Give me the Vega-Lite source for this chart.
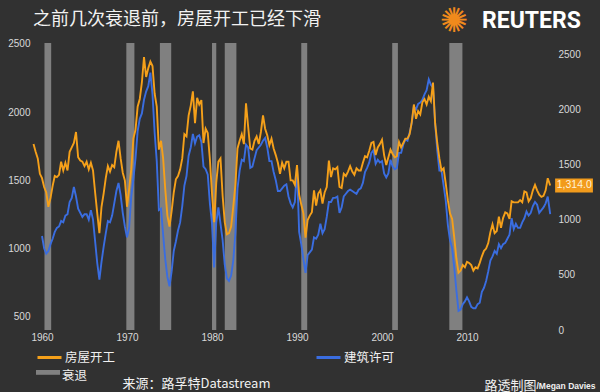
{
"$schema":"https://vega.github.io/schema/vega-lite/v6.json",
"width":519,"height":287,
"autosize":{"type":"none"},
"padding":{"left":33,"top":43,"right":48,"bottom":62},
"background":"#313131",
"config":{"view":{"stroke":null},"axis":{"grid":false,"domain":false,"ticks":false,"labelColor":"#d9d9d9","labelFont":"Liberation Sans","labelFontSize":10}},
"datasets":{
"rec":[{"a":1960.29,"b":1961.08,"k":"衰退"},{"a":1969.92,"b":1970.87,"k":"衰退"},{"a":1973.87,"b":1975.2,"k":"衰退"},{"a":1980.0,"b":1980.5,"k":"衰退"},{"a":1981.5,"b":1982.87,"k":"衰退"},{"a":1990.5,"b":1991.2,"k":"衰退"},{"a":2001.2,"b":2001.87,"k":"衰退"},{"a":2007.92,"b":2009.46,"k":"衰退"}],
"hs":[
{"t":1959,"s":1690},{"t":1959.25,"s":1620},{"t":1959.5,"s":1560},{"t":1959.75,"s":1420},
{"t":1960,"s":1380,"p":1090},{"t":1960.25,"s":1300,"p":1000},{"t":1960.5,"s":1250,"p":960},{"t":1960.75,"s":1120,"p":980},
{"t":1961,"s":1200,"p":1030},{"t":1961.25,"s":1310,"p":1070},{"t":1961.5,"s":1400,"p":1120},{"t":1961.75,"s":1390,"p":1150},
{"t":1962,"s":1410,"p":1160},{"t":1962.25,"s":1530,"p":1200},{"t":1962.5,"s":1450,"p":1190},{"t":1962.75,"s":1520,"p":1240},
{"t":1963,"s":1450,"p":1250},{"t":1963.25,"s":1620,"p":1340},{"t":1963.5,"s":1660,"p":1370},{"t":1963.75,"s":1700,"p":1450},
{"t":1964,"s":1800,"p":1380},{"t":1964.25,"s":1570,"p":1290},{"t":1964.5,"s":1540,"p":1260},{"t":1964.75,"s":1530,"p":1230},
{"t":1965,"s":1490,"p":1250},{"t":1965.25,"s":1530,"p":1250},{"t":1965.5,"s":1460,"p":1210},{"t":1965.75,"s":1520,"p":1280},
{"t":1966,"s":1450,"p":1210},{"t":1966.25,"s":1250,"p":1050},{"t":1966.5,"s":1060,"p":890},{"t":1966.75,"s":880,"p":770},
{"t":1967,"s":1120,"p":900},{"t":1967.25,"s":1240,"p":1010},{"t":1967.5,"s":1380,"p":1110},{"t":1967.75,"s":1490,"p":1200},
{"t":1968,"s":1440,"p":1190},{"t":1968.25,"s":1500,"p":1240},{"t":1968.5,"s":1480,"p":1330},{"t":1968.75,"s":1620,"p":1420},
{"t":1969,"s":1720,"p":1480},{"t":1969.25,"s":1560,"p":1390},{"t":1969.5,"s":1430,"p":1260},{"t":1969.75,"s":1360,"p":1160},
{"t":1970,"s":1120,"p":1080},{"t":1970.25,"s":1280,"p":1150},{"t":1970.5,"s":1460,"p":1380},{"t":1970.75,"s":1740,"p":1510},
{"t":1971,"s":1820,"p":1660},{"t":1971.25,"s":2030,"p":1860},{"t":1971.5,"s":2100,"p":1950},{"t":1971.75,"s":2250,"p":1990},
{"t":1972,"s":2480,"p":2090},{"t":1972.25,"s":2300,"p":2150},{"t":1972.5,"s":2380,"p":2190},{"t":1972.75,"s":2440,"p":2290},
{"t":1973,"s":2400,"p":2130},{"t":1973.25,"s":2150,"p":1850},{"t":1973.5,"s":2030,"p":1640},{"t":1973.75,"s":1640,"p":1280},
{"t":1974,"s":1720,"p":1290},{"t":1974.25,"s":1560,"p":1100},{"t":1974.5,"s":1280,"p":920},{"t":1974.75,"s":1040,"p":790},
{"t":1975,"s":940,"p":720},{"t":1975.25,"s":1080,"p":830},{"t":1975.5,"s":1250,"p":980},{"t":1975.75,"s":1370,"p":1050},
{"t":1976,"s":1400,"p":1130},{"t":1976.25,"s":1460,"p":1190},{"t":1976.5,"s":1560,"p":1310},{"t":1976.75,"s":1780,"p":1460},
{"t":1977,"s":1760,"p":1530},{"t":1977.25,"s":1950,"p":1680},{"t":1977.5,"s":2040,"p":1740},{"t":1977.75,"s":2170,"p":1840},
{"t":1978,"s":1880,"p":1770},{"t":1978.25,"s":2110,"p":1820},{"t":1978.5,"s":2050,"p":1830},{"t":1978.75,"s":2090,"p":1780},
{"t":1979,"s":1700,"p":1600},{"t":1979.25,"s":1830,"p":1580},{"t":1979.5,"s":1790,"p":1540},{"t":1979.75,"s":1550,"p":1330},
{"t":1980,"s":1240,"p":1180},{"t":1980.25,"s":980,"p":860},{"t":1980.5,"s":1340,"p":1190},{"t":1980.75,"s":1530,"p":1300},
{"t":1981,"s":1560,"p":1180},{"t":1981.25,"s":1220,"p":1060},{"t":1981.5,"s":980,"p":880},{"t":1981.75,"s":870,"p":780},
{"t":1982,"s":880,"p":760},{"t":1982.25,"s":940,"p":800},{"t":1982.5,"s":1120,"p":910},{"t":1982.75,"s":1320,"p":1110},
{"t":1983,"s":1650,"p":1440},{"t":1983.25,"s":1720,"p":1570},{"t":1983.5,"s":1780,"p":1650},{"t":1983.75,"s":1690,"p":1640},
{"t":1984,"s":2060,"p":1760},{"t":1984.25,"s":1850,"p":1740},{"t":1984.5,"s":1650,"p":1590},{"t":1984.75,"s":1640,"p":1600},
{"t":1985,"s":1720,"p":1660},{"t":1985.25,"s":1760,"p":1720},{"t":1985.5,"s":1690,"p":1740},{"t":1985.75,"s":1800,"p":1760},
{"t":1986,"s":1950,"p":1790},{"t":1986.25,"s":1830,"p":1810},{"t":1986.5,"s":1770,"p":1740},{"t":1986.75,"s":1680,"p":1640},
{"t":1987,"s":1740,"p":1640},{"t":1987.25,"s":1650,"p":1560},{"t":1987.5,"s":1590,"p":1500},{"t":1987.75,"s":1520,"p":1420},
{"t":1988,"s":1420,"p":1420},{"t":1988.25,"s":1520,"p":1440},{"t":1988.5,"s":1470,"p":1460},{"t":1988.75,"s":1530,"p":1470},
{"t":1989,"s":1530,"p":1380},{"t":1989.25,"s":1360,"p":1330},{"t":1989.5,"s":1360,"p":1300},{"t":1989.75,"s":1320,"p":1340},
{"t":1990,"s":1500,"p":1600},{"t":1990.25,"s":1230,"p":1120},{"t":1990.5,"s":1140,"p":1030},{"t":1990.75,"s":1060,"p":920},
{"t":1991,"s":840,"p":820},{"t":1991.25,"s":1000,"p":950},{"t":1991.5,"s":1040,"p":970},{"t":1991.75,"s":1070,"p":990},
{"t":1992,"s":1270,"p":1080},{"t":1992.25,"s":1130,"p":1070},{"t":1992.5,"s":1240,"p":1100},{"t":1992.75,"s":1270,"p":1180},
{"t":1993,"s":1150,"p":1110},{"t":1993.25,"s":1250,"p":1140},{"t":1993.5,"s":1300,"p":1230},{"t":1993.75,"s":1540,"p":1340},
{"t":1994,"s":1390,"p":1340},{"t":1994.25,"s":1470,"p":1370},{"t":1994.5,"s":1460,"p":1370},{"t":1994.75,"s":1480,"p":1380},
{"t":1995,"s":1300,"p":1260},{"t":1995.25,"s":1290,"p":1300},{"t":1995.5,"s":1420,"p":1380},{"t":1995.75,"s":1400,"p":1400},
{"t":1996,"s":1440,"p":1420},{"t":1996.25,"s":1490,"p":1430},{"t":1996.5,"s":1440,"p":1420},{"t":1996.75,"s":1410,"p":1410},
{"t":1997,"s":1470,"p":1400},{"t":1997.25,"s":1450,"p":1430},{"t":1997.5,"s":1450,"p":1440},{"t":1997.75,"s":1520,"p":1480},
{"t":1998,"s":1580,"p":1560},{"t":1998.25,"s":1570,"p":1590},{"t":1998.5,"s":1630,"p":1630},{"t":1998.75,"s":1700,"p":1700},
{"t":1999,"s":1710,"p":1720},{"t":1999.25,"s":1590,"p":1620},{"t":1999.5,"s":1660,"p":1650},{"t":1999.75,"s":1690,"p":1630},
{"t":2000,"s":1730,"p":1640},{"t":2000.25,"s":1590,"p":1550},{"t":2000.5,"s":1500,"p":1520},{"t":2000.75,"s":1570,"p":1550},
{"t":2001,"s":1640,"p":1650},{"t":2001.25,"s":1600,"p":1600},{"t":2001.5,"s":1570,"p":1580},{"t":2001.75,"s":1580,"p":1590},
{"t":2002,"s":1710,"p":1700},{"t":2002.25,"s":1660,"p":1700},{"t":2002.5,"s":1700,"p":1760},{"t":2002.75,"s":1740,"p":1800},
{"t":2003,"s":1740,"p":1790},{"t":2003.25,"s":1780,"p":1850},{"t":2003.5,"s":1890,"p":1920},{"t":2003.75,"s":2050,"p":2040},
{"t":2004,"s":1920,"p":2020},{"t":2004.25,"s":1990,"p":2060},{"t":2004.5,"s":1960,"p":2070},{"t":2004.75,"s":2070,"p":2090},
{"t":2005,"s":2100,"p":2130},{"t":2005.25,"s":2050,"p":2160},{"t":2005.5,"s":2120,"p":2240},{"t":2005.75,"s":2080,"p":2200},
{"t":2006,"s":2250,"p":2180},{"t":2006.25,"s":1880,"p":1920},{"t":2006.5,"s":1700,"p":1720},{"t":2006.75,"s":1560,"p":1570},
{"t":2007,"s":1450,"p":1570},{"t":2007.25,"s":1470,"p":1460},{"t":2007.5,"s":1330,"p":1350},{"t":2007.75,"s":1180,"p":1170},
{"t":2008,"s":1060,"p":1060},{"t":2008.25,"s":1010,"p":1000},{"t":2008.5,"s":840,"p":860},{"t":2008.75,"s":650,"p":690},
{"t":2009,"s":520,"p":540},{"t":2009.25,"s":540,"p":550},{"t":2009.5,"s":590,"p":590},{"t":2009.75,"s":570,"p":610},
{"t":2010,"s":620,"p":640},{"t":2010.25,"s":610,"p":610},{"t":2010.5,"s":590,"p":570},{"t":2010.75,"s":540,"p":560},
{"t":2011,"s":570,"p":560},{"t":2011.25,"s":560,"p":590},{"t":2011.5,"s":610,"p":600},{"t":2011.75,"s":670,"p":680},
{"t":2012,"s":720,"p":710},{"t":2012.25,"s":740,"p":760},{"t":2012.5,"s":790,"p":830},{"t":2012.75,"s":890,"p":910},
{"t":2013,"s":960,"p":940},{"t":2013.25,"s":880,"p":980},{"t":2013.5,"s":900,"p":960},{"t":2013.75,"s":1030,"p":1030},
{"t":2014,"s":930,"p":1000},{"t":2014.25,"s":1020,"p":1030},{"t":2014.5,"s":1070,"p":1040},{"t":2014.75,"s":1060,"p":1070},
{"t":2015,"s":1010,"p":1100},{"t":2015.25,"s":1170,"p":1220},{"t":2015.5,"s":1160,"p":1140},{"t":2015.75,"s":1160,"p":1180},
{"t":2016,"s":1160,"p":1150},{"t":2016.25,"s":1180,"p":1150},{"t":2016.5,"s":1160,"p":1190},{"t":2016.75,"s":1260,"p":1220},
{"t":2017,"s":1250,"p":1270},{"t":2017.25,"s":1170,"p":1240},{"t":2017.5,"s":1200,"p":1260},{"t":2017.75,"s":1270,"p":1310},
{"t":2018,"s":1320,"p":1340},{"t":2018.25,"s":1270,"p":1320},{"t":2018.5,"s":1230,"p":1260},{"t":2018.75,"s":1210,"p":1280},
{"t":2019,"s":1220,"p":1300},{"t":2019.25,"s":1270,"p":1330},{"t":2019.5,"s":1380,"p":1380},{"t":2019.79,"s":1314,"p":1250}
],
"last":[{"t":2019.79,"s":1314}]
},
"layer":[
{"data":{"name":"rec"},"mark":{"type":"rect","opacity":1},
 "encoding":{
  "x":{"field":"a","type":"quantitative","scale":{"domain":[1958.94,2020],"nice":false,"zero":false},
   "axis":{"values":[1960,1970,1980,1990,2000,2010],"format":"d","labelPadding":2,"title":"来源：路孚特Datastream","titleX":89,"titleY":53,"titleAlign":"left","titleBaseline":"middle","titleAngle":0,"titleFont":"Noto Sans CJK SC","titleFontSize":13,"titleFontWeight":"normal","titleColor":"#f0f0f0"}},
  "x2":{"field":"b"},
  "fill":{"field":"k","type":"nominal","scale":{"domain":["衰退"],"range":["#808080"]},
   "legend":{"orient":"none","legendX":3,"legendY":321,"title":null,"padding":0,"symbolType":"M-1,-0.5H1V-0.1H-1Z","symbolSize":576,"symbolStrokeWidth":0,"symbolOpacity":1,"labelFont":"Noto Sans CJK SC","labelFontSize":12.5,"labelColor":"#f0f0f0","labelOffset":2}}
 }},
{"data":{"name":"hs"},"mark":{"type":"line","strokeWidth":1.9},
 "encoding":{
  "x":{"field":"t","type":"quantitative","scale":{"domain":[1958.94,2020],"nice":false,"zero":false}},
  "y":{"field":"p","type":"quantitative","scale":{"domain":[400,2507],"nice":false,"zero":false},
   "axis":{"orient":"left","values":[500,1000,1500,2000,2500],"format":"d","labelPadding":3,"title":"/Megan Davies","titleX":503,"titleY":342,"titleAngle":0,"titleAlign":"left","titleBaseline":"middle","titleFont":"Liberation Sans","titleFontSize":8.5,"titleFontWeight":"bold","titleColor":"#f0f0f0"}},
  "color":{"datum":"建筑许可","type":"nominal","scale":{"domain":["房屋开工","建筑许可"],"range":["#f5a01a","#3a6de0"]},
   "legend":{"orient":"none","legendX":3,"legendY":301,"direction":"horizontal","title":null,"padding":0,"symbolType":"stroke","symbolSize":576,"symbolStrokeWidth":3,"labelFont":"Noto Sans CJK SC","labelFontSize":12.5,"labelColor":"#f0f0f0","labelOffset":2,"columnPadding":194}}
 }},
{"layer":[
 {"data":{"name":"hs"},"mark":{"type":"line","strokeWidth":1.9},
  "encoding":{
   "x":{"field":"t","type":"quantitative","scale":{"domain":[1958.94,2020],"nice":false,"zero":false}},
   "y":{"field":"s","type":"quantitative","scale":{"domain":[0,2609],"nice":false,"zero":false},
    "axis":{"orient":"right","values":[0,500,1000,1500,2000,2500],"format":"d","labelPadding":6,"title":"路透制图","titleX":-68,"titleY":342,"titleAngle":0,"titleAlign":"left","titleBaseline":"middle","titleFont":"Noto Sans CJK SC","titleFontSize":13,"titleFontWeight":"normal","titleColor":"#f0f0f0"}},
   "color":{"datum":"房屋开工","type":"nominal"}
  }},
 {"data":{"name":"last"},"mark":{"type":"point","shape":"M0.7,-1H6.1V1H0.7Z","size":196,"filled":true,"opacity":1,"color":"#f29b1c"},
  "encoding":{
   "x":{"field":"t","type":"quantitative"},
   "y":{"field":"s","type":"quantitative","scale":{"domain":[0,2609],"nice":false,"zero":false}}
  }},
 {"data":{"name":"last"},"mark":{"type":"text","dx":24,"align":"center","baseline":"middle","font":"Liberation Sans","fontSize":10.5,"color":"#fff1d6"},
  "encoding":{
   "x":{"field":"t","type":"quantitative"},
   "y":{"field":"s","type":"quantitative","scale":{"domain":[0,2609],"nice":false,"zero":false}},
   "text":{"field":"s","type":"quantitative","format":",.1f"}
  }},
 {"data":{"values":[{}]},"mark":{"type":"text","text":"之前几次衰退前，房屋开工已经下滑","align":"left","baseline":"middle","font":"Noto Sans CJK SC","fontSize":18,"color":"#f2f2f2"},
  "encoding":{
   "x":{"datum":1958.94,"type":"quantitative"},
   "y":{"datum":2818,"type":"quantitative","scale":{"domain":[0,2609],"nice":false,"zero":false}}
  }},
 {"data":{"values":[{}]},"mark":{"type":"text","text":"REUTERS","align":"left","baseline":"middle","font":"Roboto","fontWeight":"bold","fontSize":23,"color":"#ffffff"},
  "encoding":{
   "x":{"datum":2011.76,"type":"quantitative"},
   "y":{"datum":2809,"type":"quantitative","scale":{"domain":[0,2609],"nice":false,"zero":false}}
  }},
 {"data":{"values":[{}]},"mark":{"type":"text","text":"✺","align":"center","baseline":"middle","font":"DejaVu Sans","fontSize":34,"color":"#f08a1c"},
  "encoding":{
   "x":{"datum":2008.47,"type":"quantitative"},
   "y":{"datum":2800,"type":"quantitative","scale":{"domain":[0,2609],"nice":false,"zero":false}}
  }}
]}
],
"resolve":{"scale":{"y":"independent"}}
}
